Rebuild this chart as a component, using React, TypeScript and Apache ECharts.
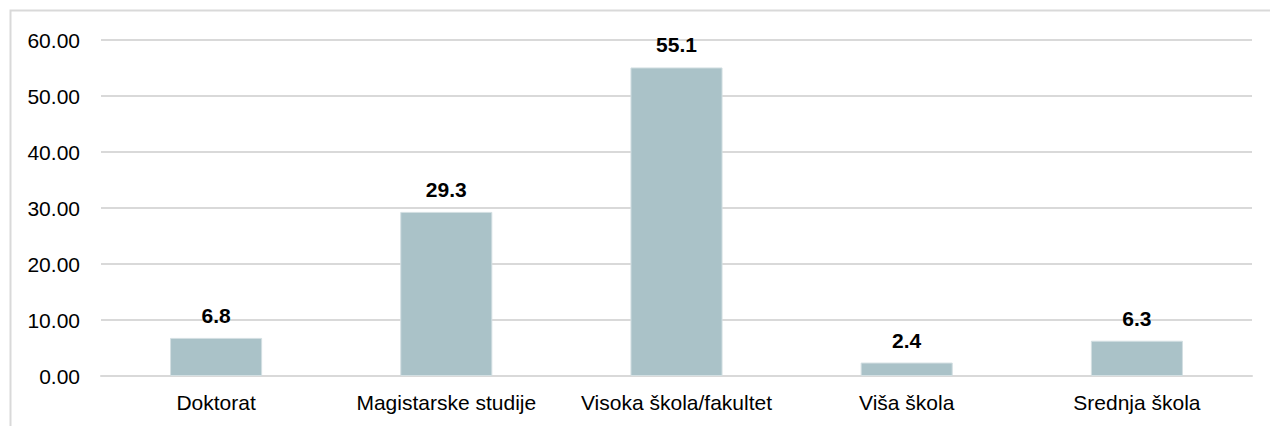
import React, { useEffect, useRef } from "react";
import * as echarts from "echarts";

const categories = ["Doktorat", "Magistarske studije", "Visoka škola/fakultet", "Viša škola", "Srednja škola"];
const values = [6.8, 29.3, 55.1, 2.4, 6.3];
const yTicks = { min: 0, max: 60, interval: 10 };

const FONT = "Liberation Sans, Arial, Helvetica, sans-serif";

export default function App() {
  const ref = useRef<HTMLDivElement>(null);
  useEffect(() => {
    const chart = echarts.init(ref.current!, null, { renderer: "svg" });
    chart.setOption({
      animation: false,
      graphic: [
        {
          type: "rect",
          shape: { x: 10.5, y: 10.5, width: 1300, height: 500 },
          style: { fill: "none", stroke: "#d9d9d9", lineWidth: 2 },
          silent: true,
        },
      ],
      grid: { left: 101, right: 18, top: 40, bottom: 50 },
      xAxis: {
        type: "category",
        data: categories,
        axisLine: { show: true, lineStyle: { color: "#d9d9d9", width: 2 } },
        axisTick: { show: false },
        axisLabel: { color: "#000", fontSize: 21, fontFamily: FONT, margin: 16, interval: 0, hideOverlap: false },
      },
      yAxis: {
        type: "value",
        min: yTicks.min,
        max: yTicks.max,
        interval: yTicks.interval,
        axisLine: { show: false },
        axisTick: { show: false },
        splitLine: { lineStyle: { color: "#d9d9d9", width: 2 } },
        axisLabel: {
          color: "#000",
          fontSize: 21,
          fontFamily: FONT,
          margin: 21,
          formatter: (v: number) => v.toFixed(2),
        },
      },
      series: [
        {
          type: "bar",
          data: values,
          barWidth: "40%",
          itemStyle: { color: "#aac2c8", borderColor: "#d3dfe2", borderWidth: 1 },
          label: {
            show: true,
            position: "top",
            distance: 12,
            color: "#000",
            fontWeight: "bold",
            fontSize: 21,
            fontFamily: FONT,
            formatter: (p: any) => String(p.value),
          },
        },
      ],
    });
    return () => chart.dispose();
  }, []);
  return <div ref={ref} style={{ position: "absolute", left: 0, top: 0, width: 1270, height: 426 }} />;
}
